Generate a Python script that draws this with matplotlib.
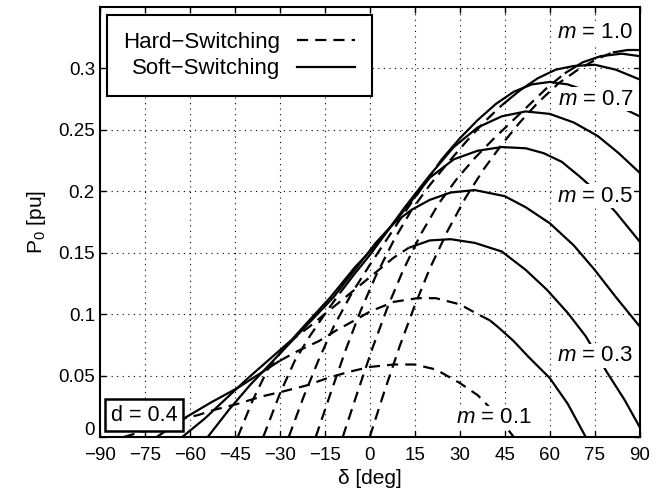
import matplotlib
matplotlib.use('Agg')
import matplotlib.pyplot as plt
import matplotlib.transforms as mtransforms
from matplotlib.lines import Line2D

plt.rcParams['font.family'] = ['Liberation Sans', 'DejaVu Sans']
plt.rcParams['mathtext.fontset'] = 'custom'
plt.rcParams['mathtext.rm'] = 'Liberation Sans'
plt.rcParams['mathtext.it'] = 'Liberation Sans:italic'
plt.rcParams['axes.unicode_minus'] = True

# power curves P0(delta) for d = 0.4, one per modulation index m
delta_m01 = [-82, -75, -68, -62, -57, -52, -44, -36, -29, -21, -14, -7, 0, 8, 15, 22, 30, 36, 42, 48]
p_m01 = [0, 0.005, 0.010, 0.015, 0.018, 0.022, 0.027, 0.033, 0.037, 0.042, 0.048, 0.053, 0.057, 0.059, 0.059, 0.055, 0.044, 0.034, 0.019, 0]
soft_m01 = []

delta_m02 = [-71, -62, -53, -44, -37, -30, -24, -17, -11, -5, 0, 8, 16, 22, 30, 36, 40, 43, 48, 53, 60, 66, 72]
p_m02 = [0, 0.015, 0.028, 0.040, 0.051, 0.062, 0.070, 0.078, 0.087, 0.095, 0.102, 0.110, 0.113, 0.113, 0.108, 0.100, 0.095, 0.089, 0.078, 0.065, 0.048, 0.027, 0]
soft_m02 = [(-71, -30), (40, 72)]

delta_m03 = [-62.5, -55, -48, -41, -34, -27, -20, -13, -5, 3, 8, 13, 20, 27, 35, 44, 52, 59, 66, 72, 79, 85, 90]
p_m03 = [0, 0.015, 0.031, 0.047, 0.062, 0.077, 0.090, 0.104, 0.120, 0.136, 0.146, 0.154, 0.160, 0.161, 0.158, 0.151, 0.136, 0.120, 0.101, 0.082, 0.053, 0.030, 0.008]
soft_m03 = [(-62.5, -27), (13, 90)]

delta_m04 = [-54, -47, -40, -33, -26, -19, -12, -5, 2, 8, 14, 20, 27, 35, 45, 52, 60, 68, 75, 82, 90]
p_m04 = [0, 0.022, 0.042, 0.060, 0.078, 0.096, 0.114, 0.136, 0.158, 0.174, 0.185, 0.193, 0.199, 0.201, 0.196, 0.187, 0.174, 0.156, 0.136, 0.114, 0.090]
soft_m04 = [(-54, 90)]

delta_m05 = [-44, -39, -34, -29, -22, -13, -5, 2, 10, 20, 28, 36, 44, 52, 58, 64, 70, 76, 82, 90]
p_m05 = [0, 0.030, 0.055, 0.071, 0.090, 0.114, 0.138, 0.156, 0.180, 0.211, 0.226, 0.233, 0.236, 0.235, 0.231, 0.224, 0.212, 0.199, 0.183, 0.159]
soft_m05 = [(-29, 90)]

delta_m06 = [-35.5, -30, -25, -20, -15, -10, -5, 0, 6, 12, 20, 28, 36, 44, 52, 60, 68, 76, 83, 90]
p_m06 = [0, 0.035, 0.062, 0.082, 0.100, 0.117, 0.133, 0.148, 0.168, 0.188, 0.213, 0.236, 0.252, 0.261, 0.265, 0.263, 0.256, 0.245, 0.231, 0.215]
soft_m06 = [(-10, 90)]

delta_m07 = [-27, -22, -17, -12, -6, 0, 6, 12, 18, 24, 30, 36, 42, 48, 54, 60, 66, 72, 78, 84, 90]
p_m07 = [0, 0.033, 0.063, 0.090, 0.117, 0.140, 0.162, 0.184, 0.205, 0.226, 0.243, 0.258, 0.271, 0.281, 0.287, 0.289, 0.287, 0.282, 0.275, 0.268, 0.261]
soft_m07 = [(24, 90)]

delta_m08 = [-18, -13, -8, -3, 2, 8, 14, 20, 26, 32, 38, 44, 50, 56, 62, 68, 75, 82, 90]
p_m08 = [0, 0.036, 0.071, 0.103, 0.131, 0.160, 0.185, 0.205, 0.223, 0.240, 0.256, 0.270, 0.282, 0.292, 0.299, 0.302, 0.303, 0.299, 0.291]
soft_m08 = [(44, 90)]

delta_m09 = [-9, -4, 1, 6, 11, 17, 23, 29, 35, 41, 47, 53, 59, 65, 71, 77, 84, 90]
p_m09 = [0, 0.037, 0.073, 0.106, 0.135, 0.165, 0.190, 0.210, 0.227, 0.242, 0.256, 0.270, 0.284, 0.296, 0.305, 0.310, 0.312, 0.310]
soft_m09 = [(65, 90)]

delta_m10 = [0, 5, 10, 15, 20, 26, 32, 38, 44, 50, 56, 63, 70, 76, 81, 86, 90]
p_m10 = [0, 0.038, 0.074, 0.107, 0.137, 0.168, 0.195, 0.218, 0.238, 0.256, 0.272, 0.288, 0.300, 0.308, 0.313, 0.315, 0.315]
soft_m10 = [(81, 90)]

curves = [
    (delta_m01, p_m01, soft_m01), (delta_m02, p_m02, soft_m02),
    (delta_m03, p_m03, soft_m03), (delta_m04, p_m04, soft_m04),
    (delta_m05, p_m05, soft_m05), (delta_m06, p_m06, soft_m06),
    (delta_m07, p_m07, soft_m07), (delta_m08, p_m08, soft_m08),
    (delta_m09, p_m09, soft_m09), (delta_m10, p_m10, soft_m10),
]

m_labels = ['1.0', '0.7', '0.5', '0.3', '0.1']
m_label_pos = [(75, 0.329), (75.5, 0.275), (75, 0.196), (75, 0.066), (41.5, 0.016)]

xticks = [-90, -75, -60, -45, -30, -15, 0, 15, 30, 45, 60, 75, 90]
yticks = [0, 0.05, 0.1, 0.15, 0.2, 0.25, 0.3]
ytick_labels = ['0', '0.05', '0.1', '0.15', '0.2', '0.25', '0.3']

LW = 1.6
DASH = (0, (5, 3.2))

fig = plt.figure(figsize=(6.65, 4.93), dpi=100)
ax = fig.add_axes([0.150, 0.1136, 0.812, 0.8722])


def is_soft(a, b, intervals):
    return any(lo <= a and b <= hi for lo, hi in intervals)


for xs, ys, soft in curves:
    # split each curve into runs of hard (dashed) and soft (solid) switching
    run_x, run_y = [xs[0]], [ys[0]]
    mode = None
    for i in range(1, len(xs)):
        seg_soft = is_soft(xs[i - 1], xs[i], soft)
        if mode is not None and seg_soft != mode:
            ax.plot(run_x, run_y, color='k', lw=LW,
                    linestyle='-' if mode else DASH, solid_capstyle='butt')
            run_x, run_y = [xs[i - 1]], [ys[i - 1]]
        mode = seg_soft
        run_x.append(xs[i])
        run_y.append(ys[i])
    ax.plot(run_x, run_y, color='k', lw=LW,
            linestyle='-' if mode else DASH, solid_capstyle='butt')

for lab, (lx, ly) in zip(m_labels, m_label_pos):
    ax.text(lx, ly, r'$m$ = ' + lab, fontsize=16, ha='center', va='center',
            bbox=dict(facecolor='white', edgecolor='none', pad=1.0), zorder=5)

ax.text(-75.3, 0.0178, 'd = 0.4', fontsize=15.5, ha='center', va='center',
        bbox=dict(facecolor='white', edgecolor='k', linewidth=1.8, pad=4.0), zorder=5)

ax.set_xlim(-90, 90)
ax.set_ylim(0, 0.35)
ax.set_xticks(xticks)
ax.set_yticks(yticks)
ax.set_yticklabels(ytick_labels)
ax.tick_params(direction='in', top=True, right=True, labelsize=13.5, length=4, width=1)
ax.tick_params(axis='x', pad=7)
ax.grid(True, color='k', linestyle=(0, (1, 4)), linewidth=0.8)
for s in ax.spines.values():
    s.set_linewidth(1.5)

# lift the bottom "0" a little, as in the original
zero_lab = ax.get_yticklabels()[0]
zero_lab.set_transform(zero_lab.get_transform() +
                       mtransforms.ScaledTranslation(0, 8 / 100, fig.dpi_scale_trans))

ax.set_xlabel('δ [deg]', fontsize=15, labelpad=4)
ax.set_ylabel(r'$\mathrm{P}_0$ [pu]', fontsize=15, labelpad=7)

handles = [Line2D([], [], color='k', lw=LW, linestyle=DASH),
           Line2D([], [], color='k', lw=LW, linestyle='-')]
leg = ax.legend(handles, ['Hard\u2212Switching', 'Soft\u2212Switching'], loc='upper left',
                bbox_to_anchor=(0.013, 0.981), markerfirst=False, fontsize=16,
                handlelength=2.6, handletextpad=0.75, fancybox=False, framealpha=1,
                borderpad=0.75, labelspacing=0.25, borderaxespad=0)
leg.get_frame().set_edgecolor('k')
leg.get_frame().set_linewidth(1.5)

fig.savefig('out.png', dpi=100)
